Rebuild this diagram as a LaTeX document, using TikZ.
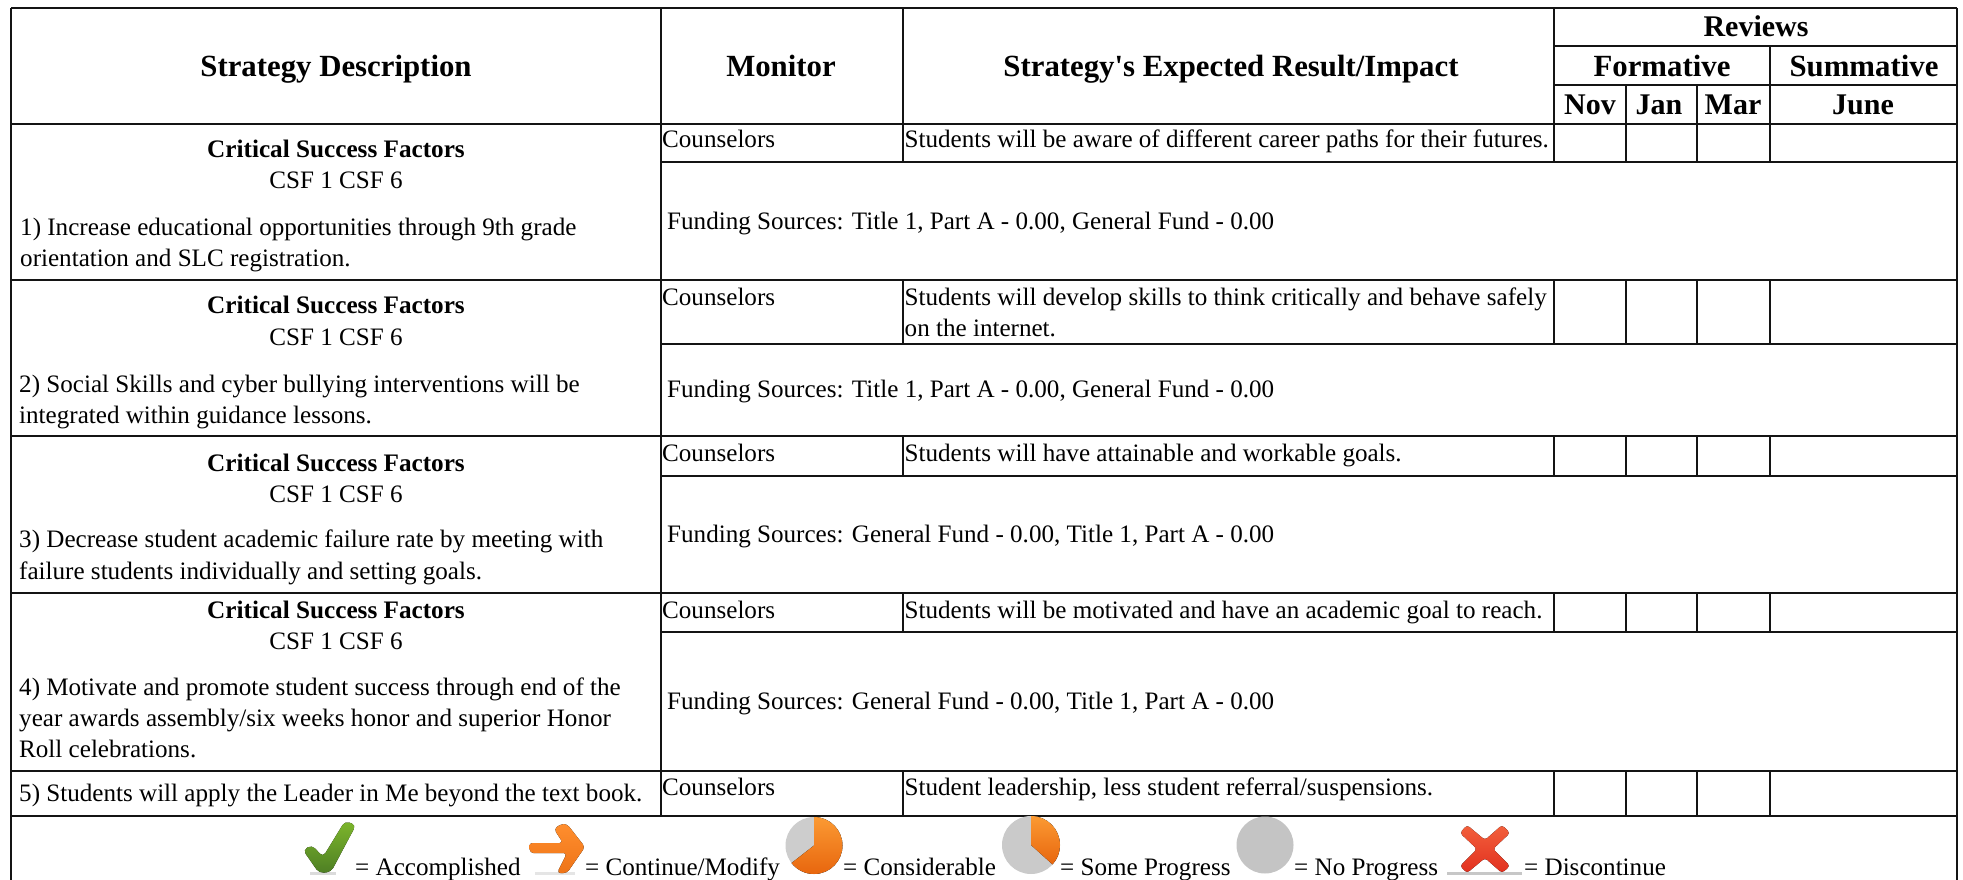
\documentclass[tikz,border=0pt]{standalone}
\usepackage{fontspec}
\setmainfont{Liberation Serif}
\newfontfamily\hdfont{Liberation Serif}
\definecolor{pgray}{HTML}{C4C4C4}
\definecolor{porangeA}{HTML}{FB9A33}
\definecolor{porangeB}{HTML}{E8660E}
\definecolor{chkA}{HTML}{7DB62C}
\definecolor{chkB}{HTML}{4E7F24}
\definecolor{arrA}{HTML}{FF8E2E}
\definecolor{arrB}{HTML}{EE7418}
\definecolor{crsA}{HTML}{F2603C}
\definecolor{crsB}{HTML}{E2301F}
\tikzset{
 lbl/.style={anchor=base west,inner sep=0pt,font=\fontsize{25.1}{31}\selectfont},
 clbl/.style={anchor=base,inner sep=0pt,font=\fontsize{25.1}{31}\selectfont},
 cbold/.style={anchor=base,inner sep=0pt,font=\fontsize{25.2}{31}\selectfont\bfseries},
 hbold/.style={anchor=base,inner sep=0pt,font=\fontsize{30}{36}\selectfont\bfseries},
 hboldb/.style={anchor=base,inner sep=0pt,font=\fontsize{30.8}{36}\hdfont\selectfont\bfseries},
 rule/.style={line width=2.6pt,black!92},
 pieorange/.style={top color=porangeA,bottom color=porangeB,draw=none},
}
\begin{document}
\begin{tikzpicture}[x=1pt,y=-1pt]
\useasboundingbox (0,0) rectangle (1963,880);
\fill[white] (0,0) rectangle (1963,880);
% horizontal rules
\foreach \y in {8,124,280,436,593,771,816} \draw[rule] (11,\y) -- (1957,\y);
\foreach \y in {162,344,476,632} \draw[rule] (661,\y) -- (1957,\y);
\foreach \y in {46,85} \draw[rule] (1554,\y) -- (1957,\y);
% vertical rules
\draw[rule] (11,8) -- (11,880);
\draw[rule] (1957,8) -- (1957,880);
\draw[rule] (661,8) -- (661,816);
\foreach \x in {903,1554} {
  \draw[rule] (\x,8) -- (\x,162);
  \draw[rule] (\x,280) -- (\x,344);
  \draw[rule] (\x,436) -- (\x,476);
  \draw[rule] (\x,593) -- (\x,632);
  \draw[rule] (\x,771) -- (\x,816);
}
\foreach \x in {1626,1697,1770} {
  \draw[rule] (\x,85) -- (\x,162);
  \draw[rule] (\x,280) -- (\x,344);
  \draw[rule] (\x,436) -- (\x,476);
  \draw[rule] (\x,593) -- (\x,632);
  \draw[rule] (\x,771) -- (\x,816);
}
\draw[rule] (1770,46) -- (1770,85);
% headers
\node[hboldb] (hs) at (336,77) {Strategy Description};
\node[hboldb] (hm) at (781,77) {Monitor};
\node[hboldb] (he) at (1231,77) {Strategy's Expected Result/Impact};
\node[hbold] (hr) at (1756,37) {Reviews};
\node[hboldb] (hf) at (1662,77) {Formative};
\node[hboldb] (hu) at (1864,77) {Summative};
\node[hbold] (hn) at (1590,115) {Nov};
\node[hbold] (hj) at (1659,115) {Jan};
\node[hbold] (hh) at (1733,115) {Mar};
\node[hbold] (hl) at (1863,115) {June};
% row 1
\node[cbold] (c1) at (336,158) {Critical Success Factors};
\node[clbl] (f1) at (336,189) {CSF 1 CSF 6};
\node[lbl] (a1) at (20,235) {1) Increase educational opportunities through 9th grade};
\node[lbl] (b1) at (20,266) {orientation and SLC registration.};
\node[lbl] (m1) at (662,148) {Counselors};
\node[lbl] (r1) at (904.5,148) {Students will be aware of different career paths for their futures.};
\node[lbl] (s1) at (667,229) {Funding Sources: Title 1, Part A - 0.00, General Fund - 0.00};
% row 2
\node[cbold] (c2) at (336,313) {Critical Success Factors};
\node[clbl] (f2) at (336,345) {CSF 1 CSF 6};
\node[lbl] (a2) at (19,392) {2) Social Skills and cyber bullying interventions will be};
\node[lbl] (b2) at (19,423) {integrated within guidance lessons.};
\node[lbl] (m2) at (662,305) {Counselors};
\node[lbl] (r2) at (904.5,305) {Students will develop skills to think critically and behave safely};
\node[lbl] (t2) at (904.5,336) {on the internet.};
\node[lbl] (s2) at (667,397) {Funding Sources: Title 1, Part A - 0.00, General Fund - 0.00};
% row 3
\node[cbold] (c3) at (336,471) {Critical Success Factors};
\node[clbl] (f3) at (336,502) {CSF 1 CSF 6};
\node[lbl] (a3) at (19,547) {3) Decrease student academic failure rate by meeting with};
\node[lbl] (b3) at (19,579) {failure students individually and setting goals.};
\node[lbl] (m3) at (662,461) {Counselors};
\node[lbl] (r3) at (904.5,461) {Students will have attainable and workable goals.};
\node[lbl] (s3) at (667,542) {Funding Sources: General Fund - 0.00, Title 1, Part A - 0.00};
% row 4
\node[cbold] (c4) at (336,618) {Critical Success Factors};
\node[clbl] (f4) at (336,649) {CSF 1 CSF 6};
\node[lbl] (a4) at (19,695) {4) Motivate and promote student success through end of the};
\node[lbl] (b4) at (19,726) {year awards assembly/six weeks honor and superior Honor};
\node[lbl] (d4) at (19,757) {Roll celebrations.};
\node[lbl] (m4) at (662,618) {Counselors};
\node[lbl] (r4) at (904.5,618) {Students will be motivated and have an academic goal to reach.};
\node[lbl] (s4) at (667,709) {Funding Sources: General Fund - 0.00, Title 1, Part A - 0.00};
% row 5
\node[lbl] (a5) at (19,801) {5) Students will apply the Leader in Me beyond the text book.};
\node[lbl] (m5) at (662,795) {Counselors};
\node[lbl] (r5) at (904.5,795) {Student leadership, less student referral/suspensions.};
% legend icons
\fill[black!14] (310,872) rectangle (336,875);
\fill[rounded corners=4.5pt,top color=chkA,bottom color=chkB]
  (303,850) -- (312,845) -- (323,857) -- (345,821) -- (356,825) -- (331,872) -- (319,873) -- cycle;
\fill[black!10] (535,872) rectangle (575,875);
\fill[rounded corners=3.5pt,top color=arrA,bottom color=arrB]
  (529,843) -- (563,843) -- (554,829) -- (561,824) -- (567,824) -- (585,847) -- (567,873) -- (557,873) -- (567,853) -- (530,853) -- cycle;
\fill[pgray!85] (814,845.5) circle[radius=28.5];
\fill[pieorange] (814,845.5) -- (814,817) arc[start angle=-90,end angle=142,radius=28.5] -- cycle;
\fill[pgray!90] (1031,845) circle[radius=29];
\fill[pieorange] (1031,845) -- (1031,816) arc[start angle=-90,end angle=42,radius=29] -- cycle;
\fill[pgray] (1265,845) circle[radius=28.5];
\fill[black!22] (1447,872) rectangle (1522,875);
\fill[rounded corners=3pt,top color=crsA,bottom color=crsB]
  (1460,833) -- (1467,825) -- (1485,840) -- (1502,825) -- (1510,833) -- (1493,849) -- (1510,866) -- (1502,873) -- (1485,858) -- (1467,873) -- (1460,866) -- (1477,849) -- cycle;
% legend texts
\node[lbl] (l1) at (355,875) {= Accomplished};
\node[lbl] (l2) at (585,875) {= Continue/Modify};
\node[lbl] (l3) at (843,875) {= Considerable};
\node[lbl] (l4) at (1060,875) {= Some Progress};
\node[lbl] (l5) at (1294,875) {= No Progress};
\node[lbl] (l6) at (1524,875) {= Discontinue};
\end{tikzpicture}
\end{document}
